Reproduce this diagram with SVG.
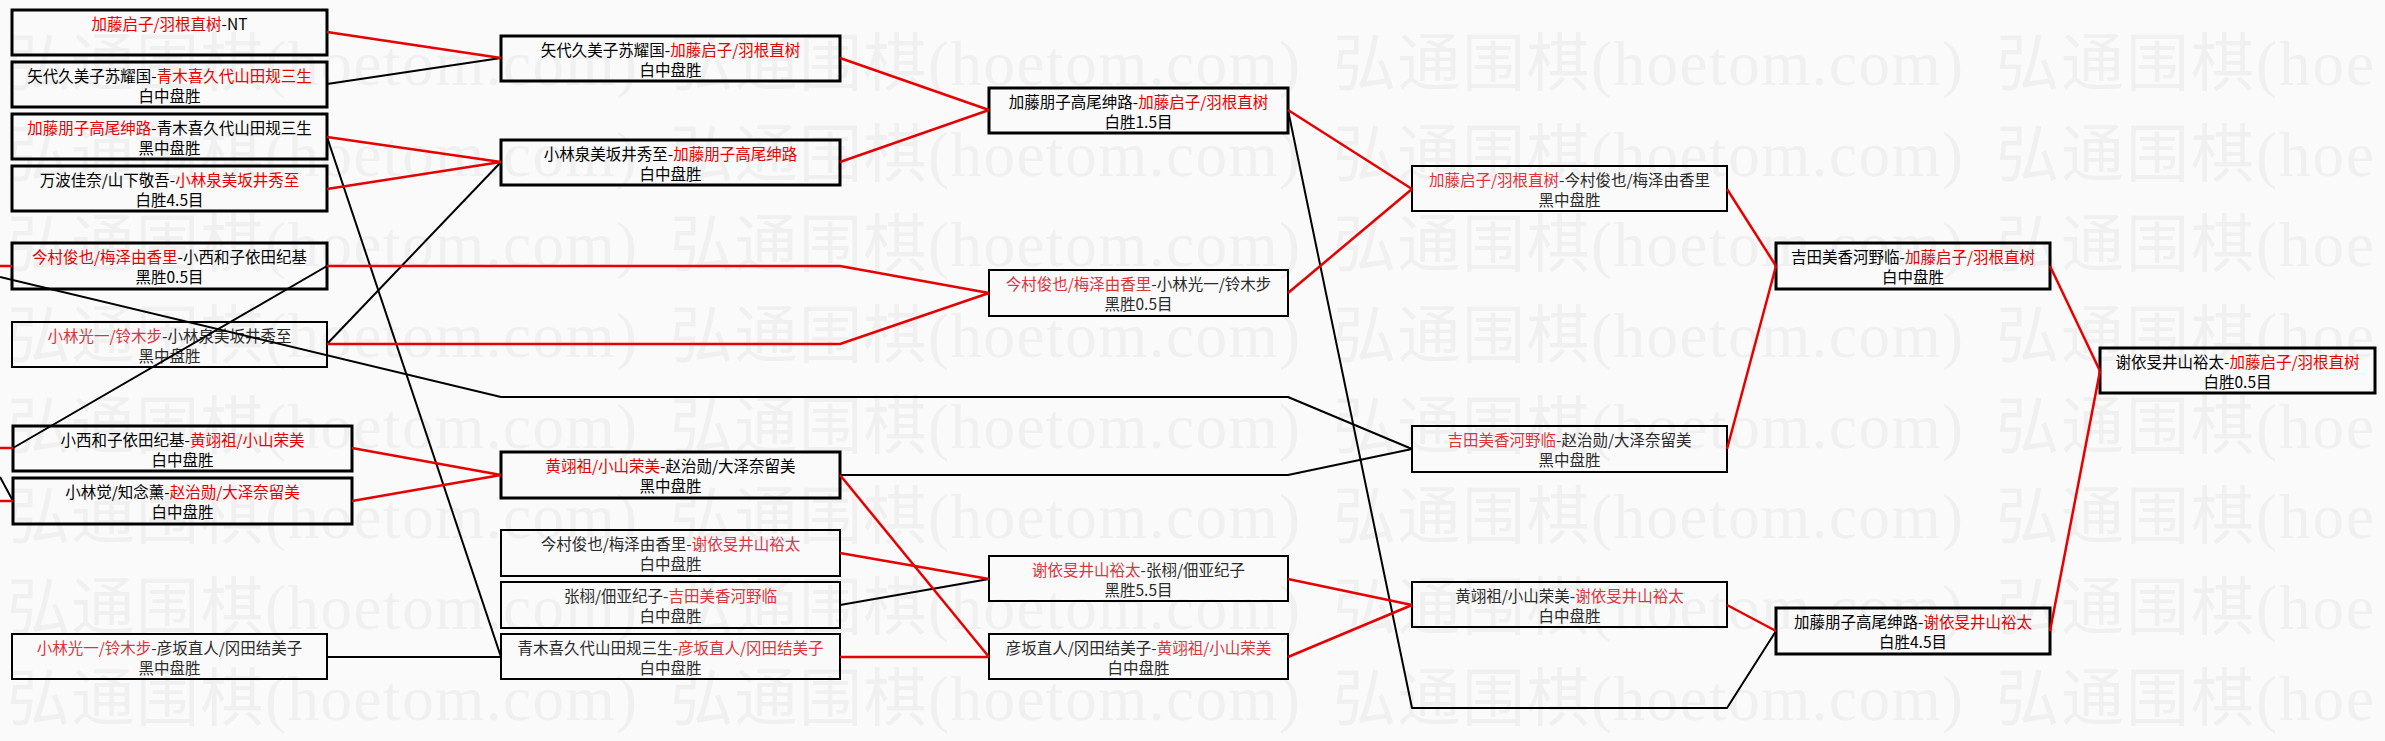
<svg xmlns="http://www.w3.org/2000/svg" width="2385" height="741" viewBox="0 0 2385 741">
<style>
.bg{fill:#fafafa}
.wm{font-family:"Liberation Serif","Noto Sans CJK SC",serif;font-size:63px;fill:#f0f0f0}
.n rect{fill:none;stroke:#000;stroke-width:3}
.n.l rect{stroke-width:2}
.n text{font-family:"Noto Sans CJK SC",sans-serif;font-size:15.5px;text-anchor:middle;fill:#000}
.n.l text{fill:#2b2b2b}
.n text .r{fill:#e60000}
.n.l text .r{fill:#dc3540}
.cr{fill:none;stroke:#e60000;stroke-width:2.5;stroke-linejoin:round}
.cb{fill:none;stroke:#000;stroke-width:2;stroke-linejoin:round}
</style>
<rect class="bg" x="0" y="0" width="2385" height="741"/>
<g id="watermark">
<text class="wm" x="7" y="85" textLength="630">弘通围棋(hoetom.com)</text><text class="wm" x="670" y="85" textLength="630">弘通围棋(hoetom.com)</text><text class="wm" x="1333" y="85" textLength="630">弘通围棋(hoetom.com)</text><text class="wm" x="1996" y="85" textLength="378">弘通围棋(hoe</text>
<text class="wm" x="7" y="176" textLength="630">弘通围棋(hoetom.com)</text><text class="wm" x="670" y="176" textLength="630">弘通围棋(hoetom.com)</text><text class="wm" x="1333" y="176" textLength="630">弘通围棋(hoetom.com)</text><text class="wm" x="1996" y="176" textLength="378">弘通围棋(hoe</text>
<text class="wm" x="7" y="266" textLength="630">弘通围棋(hoetom.com)</text><text class="wm" x="670" y="266" textLength="630">弘通围棋(hoetom.com)</text><text class="wm" x="1333" y="266" textLength="630">弘通围棋(hoetom.com)</text><text class="wm" x="1996" y="266" textLength="378">弘通围棋(hoe</text>
<text class="wm" x="7" y="357" textLength="630">弘通围棋(hoetom.com)</text><text class="wm" x="670" y="357" textLength="630">弘通围棋(hoetom.com)</text><text class="wm" x="1333" y="357" textLength="630">弘通围棋(hoetom.com)</text><text class="wm" x="1996" y="357" textLength="378">弘通围棋(hoe</text>
<text class="wm" x="7" y="448" textLength="630">弘通围棋(hoetom.com)</text><text class="wm" x="670" y="448" textLength="630">弘通围棋(hoetom.com)</text><text class="wm" x="1333" y="448" textLength="630">弘通围棋(hoetom.com)</text><text class="wm" x="1996" y="448" textLength="378">弘通围棋(hoe</text>
<text class="wm" x="7" y="538" textLength="630">弘通围棋(hoetom.com)</text><text class="wm" x="670" y="538" textLength="630">弘通围棋(hoetom.com)</text><text class="wm" x="1333" y="538" textLength="630">弘通围棋(hoetom.com)</text><text class="wm" x="1996" y="538" textLength="378">弘通围棋(hoe</text>
<text class="wm" x="7" y="629" textLength="630">弘通围棋(hoetom.com)</text><text class="wm" x="670" y="629" textLength="630">弘通围棋(hoetom.com)</text><text class="wm" x="1333" y="629" textLength="630">弘通围棋(hoetom.com)</text><text class="wm" x="1996" y="629" textLength="378">弘通围棋(hoe</text>
<text class="wm" x="7" y="720" textLength="630">弘通围棋(hoetom.com)</text><text class="wm" x="670" y="720" textLength="630">弘通围棋(hoetom.com)</text><text class="wm" x="1333" y="720" textLength="630">弘通围棋(hoetom.com)</text><text class="wm" x="1996" y="720" textLength="378">弘通围棋(hoe</text>
</g>
<g id="nodes">
<g id="nA" class="n"><rect x="12" y="10" width="315" height="45"/><text x="169.5" y="30"><tspan class="r">加藤启子/羽根直树</tspan>-NT</text></g>
<g id="nB" class="n"><rect x="12" y="62" width="315" height="45"/><text x="169.5" y="82">矢代久美子苏耀国-<tspan class="r">青木喜久代山田规三生</tspan></text><text x="169.5" y="102">白中盘胜</text></g>
<g id="nC" class="n"><rect x="12" y="114" width="315" height="45"/><text x="169.5" y="134"><tspan class="r">加藤朋子高尾绅路</tspan>-青木喜久代山田规三生</text><text x="169.5" y="154">黑中盘胜</text></g>
<g id="nD" class="n"><rect x="12" y="166" width="315" height="45"/><text x="169.5" y="186">万波佳奈/山下敬吾-<tspan class="r">小林泉美坂井秀至</tspan></text><text x="169.5" y="206">白胜4.5目</text></g>
<g id="nE" class="n"><rect x="12" y="243" width="315" height="46"/><text x="169.5" y="263"><tspan class="r">今村俊也/梅泽由香里</tspan>-小西和子依田纪基</text><text x="169.5" y="283">黑胜0.5目</text></g>
<g id="nF" class="n l"><rect x="12" y="322" width="315" height="45"/><text x="169.5" y="342"><tspan class="r">小林光一/铃木步</tspan>-小林泉美坂井秀至</text><text x="169.5" y="362">黑中盘胜</text></g>
<g id="nG" class="n"><rect x="13" y="426" width="339" height="45"/><text x="182.5" y="446">小西和子依田纪基-<tspan class="r">黄翊祖/小山荣美</tspan></text><text x="182.5" y="466">白中盘胜</text></g>
<g id="nH" class="n"><rect x="13" y="478" width="339" height="46"/><text x="182.5" y="498">小林觉/知念薰-<tspan class="r">赵治勋/大泽奈留美</tspan></text><text x="182.5" y="518">白中盘胜</text></g>
<g id="nI" class="n l"><rect x="12" y="634" width="315" height="45"/><text x="169.5" y="654"><tspan class="r">小林光一/铃木步</tspan>-彦坂直人/冈田结美子</text><text x="169.5" y="674">黑中盘胜</text></g>
<g id="nJ" class="n"><rect x="501" y="36" width="339" height="45"/><text x="670.5" y="56">矢代久美子苏耀国-<tspan class="r">加藤启子/羽根直树</tspan></text><text x="670.5" y="76">白中盘胜</text></g>
<g id="nK" class="n"><rect x="501" y="140" width="339" height="45"/><text x="670.5" y="160">小林泉美坂井秀至-<tspan class="r">加藤朋子高尾绅路</tspan></text><text x="670.5" y="180">白中盘胜</text></g>
<g id="nO" class="n"><rect x="501" y="452" width="339" height="46"/><text x="670.5" y="472"><tspan class="r">黄翊祖/小山荣美</tspan>-赵治勋/大泽奈留美</text><text x="670.5" y="492">黑中盘胜</text></g>
<g id="nP" class="n l"><rect x="501" y="530" width="339" height="46"/><text x="670.5" y="550">今村俊也/梅泽由香里-<tspan class="r">谢依旻井山裕太</tspan></text><text x="670.5" y="570">白中盘胜</text></g>
<g id="nQ" class="n l"><rect x="501" y="582" width="339" height="46"/><text x="670.5" y="602">张栩/佃亚纪子-<tspan class="r">吉田美香河野临</tspan></text><text x="670.5" y="622">白中盘胜</text></g>
<g id="nR" class="n l"><rect x="501" y="634" width="339" height="45"/><text x="670.5" y="654">青木喜久代山田规三生-<tspan class="r">彦坂直人/冈田结美子</tspan></text><text x="670.5" y="674">白中盘胜</text></g>
<g id="nL" class="n"><rect x="989" y="88" width="299" height="45"/><text x="1138.5" y="108">加藤朋子高尾绅路-<tspan class="r">加藤启子/羽根直树</tspan></text><text x="1138.5" y="128">白胜1.5目</text></g>
<g id="nM" class="n l"><rect x="989" y="270" width="299" height="46"/><text x="1138.5" y="290"><tspan class="r">今村俊也/梅泽由香里</tspan>-小林光一/铃木步</text><text x="1138.5" y="310">黑胜0.5目</text></g>
<g id="nS" class="n l"><rect x="989" y="556" width="299" height="45"/><text x="1138.5" y="576"><tspan class="r">谢依旻井山裕太</tspan>-张栩/佃亚纪子</text><text x="1138.5" y="596">黑胜5.5目</text></g>
<g id="nT" class="n l"><rect x="989" y="634" width="299" height="45"/><text x="1138.5" y="654">彦坂直人/冈田结美子-<tspan class="r">黄翊祖/小山荣美</tspan></text><text x="1138.5" y="674">白中盘胜</text></g>
<g id="nN" class="n l"><rect x="1412" y="166" width="315" height="45"/><text x="1569.5" y="186"><tspan class="r">加藤启子/羽根直树</tspan>-今村俊也/梅泽由香里</text><text x="1569.5" y="206">黑中盘胜</text></g>
<g id="nV" class="n l"><rect x="1412" y="426" width="315" height="46"/><text x="1569.5" y="446"><tspan class="r">吉田美香河野临</tspan>-赵治勋/大泽奈留美</text><text x="1569.5" y="466">黑中盘胜</text></g>
<g id="nU" class="n l"><rect x="1412" y="582" width="315" height="45"/><text x="1569.5" y="602">黄翊祖/小山荣美-<tspan class="r">谢依旻井山裕太</tspan></text><text x="1569.5" y="622">白中盘胜</text></g>
<g id="nW" class="n"><rect x="1776" y="243" width="274" height="46"/><text x="1913" y="263">吉田美香河野临-<tspan class="r">加藤启子/羽根直树</tspan></text><text x="1913" y="283">白中盘胜</text></g>
<g id="nX" class="n"><rect x="1776" y="608" width="274" height="46"/><text x="1913" y="628">加藤朋子高尾绅路-<tspan class="r">谢依旻井山裕太</tspan></text><text x="1913" y="648">白胜4.5目</text></g>
<g id="nY" class="n"><rect x="2100" y="348" width="275" height="45"/><text x="2237.5" y="368">谢依旻井山裕太-<tspan class="r">加藤启子/羽根直树</tspan></text><text x="2237.5" y="388">白胜0.5目</text></g>
</g>
<g id="connectors">
<polyline class="cb" points="327,84 501,58"/>
<polyline class="cb" points="327,137 501,657"/>
<polyline class="cb" points="327,344 501,162"/>
<polyline class="cb" points="327,657 501,657"/>
<polyline class="cb" points="13,448 327,266"/>
<polyline class="cb" points="0,277 501,397 1288,397 1412,449"/>
<polyline class="cb" points="840,475 1288,475 1412,449"/>
<polyline class="cb" points="840,605 989,579"/>
<polyline class="cb" points="1288,110 1412,708 1727,708 1776,631"/>
<polyline class="cb" points="0,477 13,501"/>
<polyline class="cr" points="0,266 12,266"/>
<polyline class="cr" points="0,448 13,448"/>
<polyline class="cr" points="0,501 13,501"/>
<polyline class="cr" points="327,32 501,58"/>
<polyline class="cr" points="327,137 501,162"/>
<polyline class="cr" points="327,189 501,162"/>
<polyline class="cr" points="327,266 840,266 989,293"/>
<polyline class="cr" points="327,344 840,344 989,293"/>
<polyline class="cr" points="352,448 501,475"/>
<polyline class="cr" points="352,501 501,475"/>
<polyline class="cr" points="840,58 989,110"/>
<polyline class="cr" points="840,162 989,110"/>
<polyline class="cr" points="840,475 989,657"/>
<polyline class="cr" points="840,553 989,579"/>
<polyline class="cr" points="840,657 989,657"/>
<polyline class="cr" points="1288,110 1412,189"/>
<polyline class="cr" points="1288,293 1412,189"/>
<polyline class="cr" points="1288,579 1412,605"/>
<polyline class="cr" points="1288,657 1412,605"/>
<polyline class="cr" points="1727,189 1776,266"/>
<polyline class="cr" points="1727,449 1776,266"/>
<polyline class="cr" points="1727,605 1776,631"/>
<polyline class="cr" points="2050,266 2100,371"/>
<polyline class="cr" points="2050,631 2100,371"/>
</g>
</svg>
